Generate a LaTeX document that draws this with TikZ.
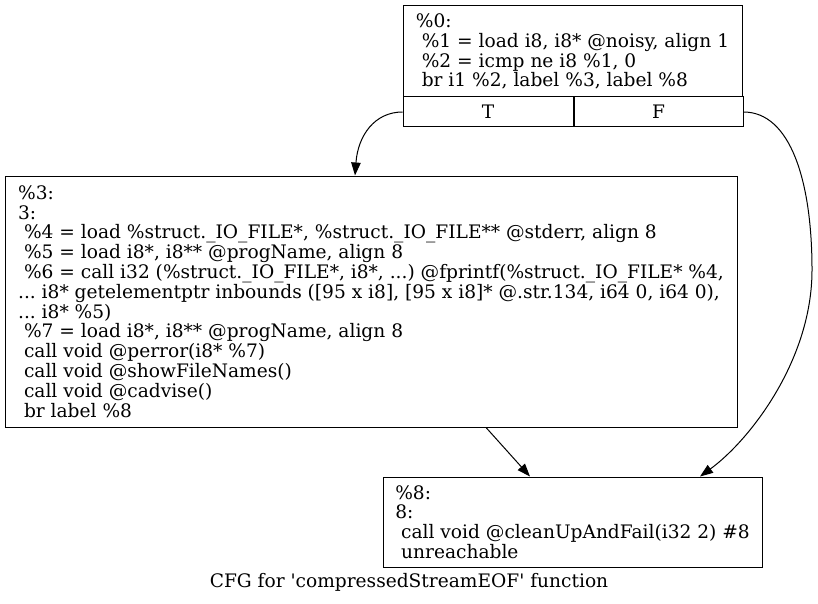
\documentclass[tikz,border=0pt]{standalone}
\usepackage{fontspec}
\setmainfont{DejaVu Serif}
\usepackage{tikz}
\usetikzlibrary{arrows.meta,positioning}
\newcommand{\blockfont}{\fontsize{18.6}{19.8}\selectfont\frenchspacing}

\begin{document}
\begin{tikzpicture}[
        x=1pt, y=-1pt,
        block/.style={rectangle, draw, line width=1pt, align=left, inner sep=0pt, font=\blockfont},
        port/.style={rectangle, draw, line width=1pt, minimum height=30pt, inner sep=0pt, font=\blockfont},
        edge/.style={line width=1pt, -{Triangle[length=13pt,width=9.5pt]}}
    ]
        \useasboundingbox (0,0) rectangle (818,604);

        % entry block with its two branch ports
        \node[block, minimum width=339pt, minimum height=91pt] (bb0) at (572.5,51.5) {\%0:\\
\ \%1 = load i8, i8* @noisy, align 1\\
\ \%2 = icmp ne i8 \%1, 0\\
\ br i1 \%2, label \%3, label \%8};
        \node[port, minimum width=170pt] (T) at (488,112) {T};
        \node[port, minimum width=169pt, right=0pt of T] (F) {F};

        \node[block, minimum width=732pt, minimum height=251pt] (bb3) at (371,301.5) {\%3:\\
3:\\
\ \%4 = load \%struct.\_IO\_FILE*, \%struct.\_IO\_FILE** @stderr, align 8\\
\ \%5 = load i8*, i8** @progName, align 8\\
\ \%6 = call i32 (\%struct.\_IO\_FILE*, i8*, ...) @fprintf(\%struct.\_IO\_FILE* \%4,\\
... i8* getelementptr inbounds ([95 x i8], [95 x i8]* @.str.134, i64 0, i64 0),\\
... i8* \%5)\\
\ \%7 = load i8*, i8** @progName, align 8\\
\ call void @perror(i8* \%7)\\
\ call void @showFileNames()\\
\ call void @cadvise()\\
\ br label \%8};

        \node[block, minimum width=379pt, minimum height=90pt] (bb8) at (572.5,522) {\%8:\\
8:\\
\ call void @cleanUpAndFail(i32 2) \#8\\
\ unreachable};

        \node[font=\blockfont, anchor=base] (title) at (409,587) {CFG for \textquotesingle compressedStreamEOF\textquotesingle\ function};

        \draw[edge] (T.west) .. controls (375,112) and (358,135) .. ([xshift=-16pt]bb3.north);
        \draw[edge] (F.east) .. controls (790,112) and (812,180) .. (812,270) .. controls (812,360) and (750,440) .. ([xshift=127.5pt]bb8.north);
        \draw[edge] ([xshift=115pt]bb3.south) -- ([xshift=-42.5pt]bb8.north);
    \end{tikzpicture}
\end{document}
